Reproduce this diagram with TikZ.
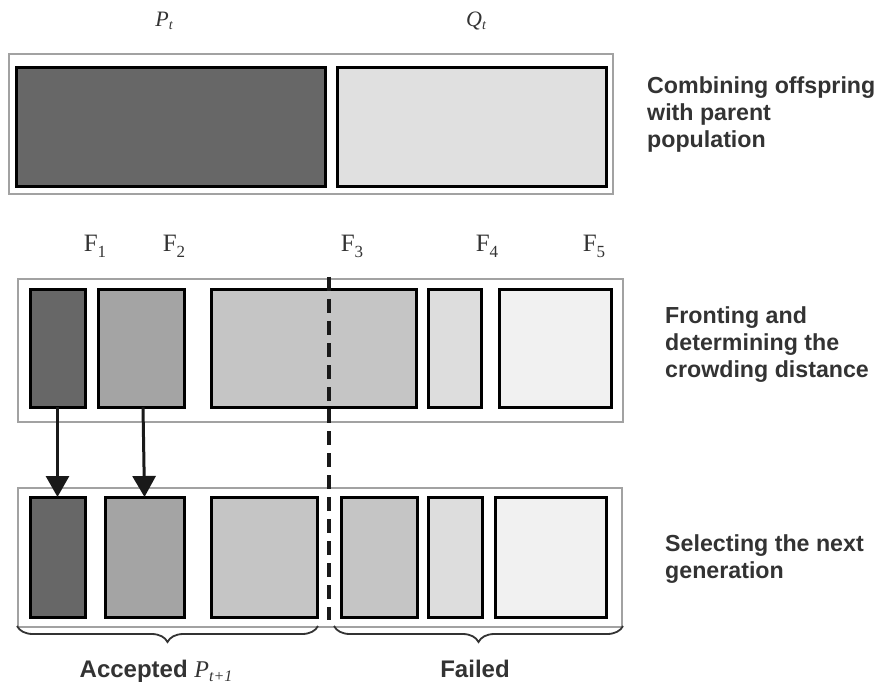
\documentclass[tikz,border=0pt]{standalone}
\usepackage{fontspec}
\setmainfont{Liberation Serif}
\setsansfont{Liberation Sans}
\usetikzlibrary{arrows.meta,decorations.pathreplacing}

\definecolor{ink}{HTML}{333333}
\definecolor{frame}{HTML}{A2A2A2}
\definecolor{fone}{HTML}{676767}
\definecolor{ftwo}{HTML}{A4A4A4}
\definecolor{fthree}{HTML}{C5C5C5}
\definecolor{ffour}{HTML}{DDDDDD}
\definecolor{ffive}{HTML}{F1F1F1}
\definecolor{offspring}{HTML}{E0E0E0}

% front label: serif F with a lowered index
\newcommand\frontlabel[1]{F\raisebox{-0.22em}{\fontsize{17}{17}\selectfont #1}}

\begin{document}
\begin{tikzpicture}[x=1pt,y=-1pt,
  popframe/.style={draw=frame,line width=2.5pt,fill=white,inner sep=0pt,outer sep=0pt},
  front/.style={draw=black,line width=3pt,inner sep=0pt,outer sep=0pt},
  caption/.style={text=ink,font=\sffamily\bfseries\fontsize{23.2}{27}\selectfont,
    align=left,anchor=north west,inner sep=0pt},
  flabel/.style={text=ink,font=\fontsize{25}{25}\selectfont,anchor=base,inner sep=0pt},
  poplabel/.style={text=ink,font=\fontsize{22}{22}\selectfont\itshape,anchor=base,inner sep=0pt},
  footlabel/.style={text=ink,font=\sffamily\bfseries\fontsize{24}{24}\selectfont,anchor=base,inner sep=0pt},
  move/.style={draw=black!90,line width=3pt,-{Triangle[width=23pt,length=21pt]}},
  split/.style={draw=black!90,line width=3.5pt,dash pattern=on 14pt off 8pt},
  group/.style={draw=ink,line width=1.8pt,decorate,
    decoration={brace,mirror,amplitude=16pt,aspect=0.5}}]

\useasboundingbox (0,0) rectangle (880,684);

% --- combined population R_t = P_t + Q_t
\node[popframe,minimum width=604,minimum height=140] (top) at (311,124) {};
\node[front,fill=fone,minimum width=309,minimum height=119] (P) at (170.5,127.5) {};
\node[front,fill=offspring,minimum width=269,minimum height=119] (Q) at (471.5,127.5) {};
\node[poplabel] (Plab) at (164,27) {P\raisebox{-3pt}{\fontsize{14}{14}\selectfont t}};
\node[poplabel] (Qlab) at (476,27) {Q\raisebox{-3pt}{\fontsize{14}{14}\selectfont t}};

% --- non-dominated fronts
\node[popframe,minimum width=605,minimum height=143] (mid) at (320.5,350.5) {};
\node[front,fill=fone,minimum width=55,minimum height=117] (m1) at (57.5,348.5) {};
\node[front,fill=ftwo,minimum width=86,minimum height=117] (m2) at (141,348.5) {};
\node[front,fill=fthree,minimum width=205,minimum height=117] (m3) at (313.5,348.5) {};
\node[front,fill=ffour,minimum width=53,minimum height=117] (m4) at (454.5,348.5) {};
\node[front,fill=ffive,minimum width=112,minimum height=117] (m5) at (555,348.5) {};

\node[flabel] (F1) at (95,252) {\frontlabel{1}};
\node[flabel] (F2) at (174,252) {\frontlabel{2}};
\node[flabel] (F3) at (352,252) {\frontlabel{3}};
\node[flabel] (F4) at (487,252) {\frontlabel{4}};
\node[flabel] (F5) at (594,252) {\frontlabel{5}};

% --- next generation
\node[popframe,minimum width=604,minimum height=139] (bot) at (320,557.5) {};
\node[front,fill=fone,minimum width=55,minimum height=120] (b1) at (57.5,557) {};
\node[front,fill=ftwo,minimum width=79,minimum height=120] (b2) at (144.5,557) {};
\node[front,fill=fthree,minimum width=106,minimum height=120] (b3) at (264,557) {};
\node[front,fill=fthree,minimum width=76,minimum height=120] (b4) at (379,557) {};
\node[front,fill=ffour,minimum width=54,minimum height=120] (b5) at (455,557) {};
\node[front,fill=ffive,minimum width=111,minimum height=120] (b6) at (550.5,557) {};

% copied fronts
\draw[move] (m1.south) -- (b1.north);
\draw[move] ([xshift=2pt]m2.south) -- (b2.north);

% cut through the last front
\coordinate (cuttop) at (329,277);
\coordinate (cutbot) at (329,620);
\draw[split] (cuttop) -- (cutbot);

% accepted / failed groups
\coordinate (accL) at (17,626);
\coordinate (accR) at (318,626);
\coordinate (failL) at (334,626);
\coordinate (failR) at (623,626);
\draw[group] (accL) -- (accR);
\draw[group] (failL) -- (failR);
\node[footlabel] (acc) at (156,677) {Accepted {\rmfamily\mdseries\itshape P\raisebox{-4pt}{\fontsize{16}{16}\selectfont t+1}}};
\node[footlabel] (fail) at (475,677) {Failed};

% step descriptions
\node[caption] (c1) at (647,76) {Combining offspring\\with parent\\population};
\node[caption] (c2) at (665,306) {Fronting and\\determining the\\crowding distance};
\node[caption] (c3) at (665,534) {Selecting the next\\generation};
\end{tikzpicture}
\end{document}
